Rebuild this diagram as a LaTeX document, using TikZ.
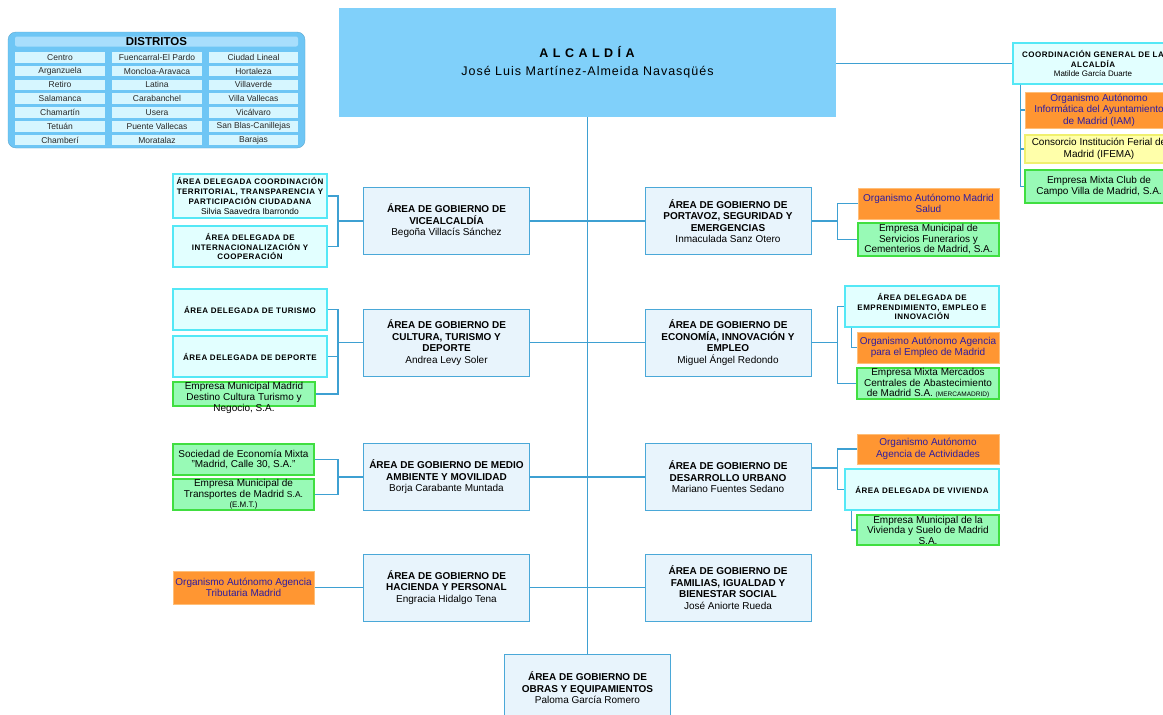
\documentclass[tikz,border=0pt]{standalone}
\usepackage{fontspec}
\setmainfont{Liberation Sans}
\newfontfamily\delfont[LetterSpace=6]{Liberation Sans}
\newfontfamily\alcfont[LetterSpace=8]{Liberation Sans}
\definecolor{linec}{RGB}{62,160,210}
\definecolor{gobfill}{RGB}{232,244,252}
\definecolor{gobdraw}{RGB}{74,168,216}
\definecolor{delfill}{RGB}{226,255,255}
\definecolor{deldraw}{RGB}{84,232,246}
\definecolor{orgfill}{RGB}{255,150,50}
\definecolor{orgdraw}{RGB}{255,190,120}
\definecolor{orgtext}{RGB}{46,28,160}
\definecolor{grnfill}{RGB}{152,250,182}
\definecolor{grndraw}{RGB}{64,222,64}
\definecolor{yelfill}{RGB}{255,255,170}
\definecolor{yeldraw}{RGB}{240,240,110}
\definecolor{alcfill}{RGB}{128,208,250}
\definecolor{distfill}{RGB}{110,198,245}
\definecolor{disthead}{RGB}{168,222,252}
\definecolor{distcell}{RGB}{214,246,255}
\definecolor{celltext}{RGB}{40,40,40}
\begin{document}
\begin{tikzpicture}[x=1pt,y=-1pt,
  conn/.style={draw=linec,line width=1.1pt},
  gob/.style={draw=gobdraw,fill=gobfill,line width=1pt,minimum width=166,minimum height=67,align=center,inner sep=0pt,font=\fontsize{10}{11.5}\selectfont},
  del/.style={draw=deldraw,fill=delfill,line width=1.3pt,minimum width=154,minimum height=41,align=center,inner sep=0pt,font=\delfont\bfseries\fontsize{8}{9.8}\selectfont},
  org/.style={draw=orgdraw,fill=orgfill,line width=1pt,text=orgtext,align=center,inner sep=0pt,font=\fontsize{10}{11.5}\selectfont},
  grn/.style={draw=grndraw,fill=grnfill,line width=1.3pt,align=center,inner sep=0pt,font=\fontsize{10}{10.5}\selectfont},
  grntext/.style={align=center,inner sep=0pt,font=\fontsize{10}{11}\selectfont},
  yel/.style={draw=yeldraw,fill=yelfill,line width=1.3pt,align=center,inner sep=0pt,font=\fontsize{10}{11.5}\selectfont},
  cell/.style={fill=distcell,minimum width=90,minimum height=10.5,inner sep=0pt,text=celltext,font=\fontsize{8.5}{9}\selectfont}
]
\useasboundingbox (0,0) rectangle (1163,715);
\fill[white] (0,0) rectangle (1163,715);

% Distritos
\node[fill=distfill,draw=distfill!85!black,line width=0.4pt,rounded corners=8pt,minimum width=297,minimum height=116,inner sep=0pt] (dist) at (156.5,90) {};
\node[fill=disthead,rounded corners=2pt,minimum width=283,minimum height=10,inner sep=0pt,font=\bfseries\fontsize{11.5}{12}\selectfont] (dhead) at (156.5,41.5) {DISTRITOS};
\foreach \n [count=\i] in {Centro,Arganzuela,Retiro,Salamanca,Chamartín,Tetuán,Chamberí}
  \node[cell] (da-\i) at (60,57.25+13.8*\i-13.8) {\n};
\foreach \n [count=\i] in {Fuencarral-El Pardo,Moncloa-Aravaca,Latina,Carabanchel,Usera,Puente Vallecas,Moratalaz}
  \node[cell] (db-\i) at (157,57.25+13.8*\i-13.8) {\n};
\foreach \n [count=\i] in {Ciudad Lineal,Hortaleza,Villaverde,Villa Vallecas,Vicálvaro,San Blas-Canillejas,Barajas}
  \node[cell,minimum width=89] (dc-\i) at (253.5,57.25+13.8*\i-13.8) {\n};

% Alcaldia
\node[fill=alcfill,minimum width=497,minimum height=109,inner sep=0pt,align=center,font=\alcfont\fontsize{12.5}{18}\selectfont] (alc) at (587.5,62.5)
  {\textbf{A L C A L D Í A}\\José Luis Martínez-Almeida Navasqüés};

% Coordinacion general
\node[del,minimum width=160,minimum height=41] (coord) at (1093,63.5)
  {COORDINACIÓN GENERAL DE LA\\ALCALDÍA\\{\normalfont\fontsize{8}{9.8}\selectfont Matilde García Duarte}};
\node[org,minimum width=148,minimum height=36] (iam) at (1099,110) {Organismo Autónomo\\Informática del Ayuntamiento\\de Madrid (IAM)};
\node[yel,minimum width=148,minimum height=28] (ifema) at (1099,149) {Consorcio Institución Ferial de\\Madrid (IFEMA)};
\node[grn,minimum width=148,minimum height=33] (club) at (1099,186.5) {Empresa Mixta Club de\\Campo Villa de Madrid, S.A.};

% Areas de gobierno
\node[gob] (vice) at (446.5,221) {\textbf{ÁREA DE GOBIERNO DE}\\\textbf{VICEALCALDÍA}\\Begoña Villacís Sánchez};
\node[gob] (cult) at (446.5,342.5) {\textbf{ÁREA DE GOBIERNO DE}\\\textbf{CULTURA, TURISMO Y}\\\textbf{DEPORTE}\\Andrea Levy Soler};
\node[gob] (medio) at (446.5,477) {\textbf{ÁREA DE GOBIERNO DE MEDIO}\\\textbf{AMBIENTE Y MOVILIDAD}\\Borja Carabante Muntada};
\node[gob] (hac) at (446.5,587.5) {\textbf{ÁREA DE GOBIERNO DE}\\\textbf{HACIENDA Y PERSONAL}\\Engracia Hidalgo Tena};
\node[gob] (port) at (728,221) {\textbf{ÁREA DE GOBIERNO DE}\\\textbf{PORTAVOZ, SEGURIDAD Y}\\\textbf{EMERGENCIAS}\\Inmaculada Sanz Otero};
\node[gob] (econ) at (728,342.5) {\textbf{ÁREA DE GOBIERNO DE}\\\textbf{ECONOMÍA, INNOVACIÓN Y}\\\textbf{EMPLEO}\\Miguel Ángel Redondo};
\node[gob] (desa) at (728,477) {\textbf{ÁREA DE GOBIERNO DE}\\\textbf{DESARROLLO URBANO}\\Mariano Fuentes Sedano};
\node[gob] (fam) at (728,587.5) {\textbf{ÁREA DE GOBIERNO DE}\\\textbf{FAMILIAS, IGUALDAD Y}\\\textbf{BIENESTAR SOCIAL}\\José Aniorte Rueda};
\node[gob] (obras) at (587.5,688) {\textbf{ÁREA DE GOBIERNO DE}\\\textbf{OBRAS Y EQUIPAMIENTOS}\\Paloma García Romero};

% Left children
\node[del,minimum height=44] (vd1) at (250,196) {ÁREA DELEGADA COORDINACIÓN\\TERRITORIAL, TRANSPARENCIA Y\\PARTICIPACIÓN CIUDADANA\\{\normalfont\fontsize{8.5}{9.8}\selectfont Silvia Saavedra Ibarrondo}};
\node[del] (vd2) at (250,246.5) {ÁREA DELEGADA DE\\INTERNACIONALIZACIÓN Y\\COOPERACIÓN};
\node[del] (tur) at (250,309.5) {ÁREA DELEGADA DE TURISMO};
\node[del] (dep) at (250,356.5) {ÁREA DELEGADA DE DEPORTE};
\node[grn,minimum width=142,minimum height=24] (dest) at (244,394) {};
\node[grntext] (destT) at (244,398) {Empresa Municipal Madrid\\Destino Cultura Turismo y\\Negocio, S.A.};
\node[grn,minimum width=141,minimum height=31] (c30) at (243.5,459.5) {Sociedad de Economía Mixta\\"Madrid, Calle 30, S.A."};
\node[grn,minimum width=141,minimum height=31] (emt) at (243.5,494.5) {Empresa Municipal de\\Transportes de Madrid {\fontsize{8.5}{10}\selectfont S.A.}\\{\fontsize{8}{10}\selectfont (E.M.T.)}};
\node[org,minimum width=141,minimum height=33] (trib) at (243.5,587.5) {Organismo Autónomo Agencia\\Tributaria Madrid};

% Right children
\node[org,minimum width=141,minimum height=31] (salud) at (928.5,203.5) {Organismo Autónomo Madrid\\Salud};
\node[grn,minimum width=141,minimum height=33] (funer) at (928.5,239.5) {Empresa Municipal de\\Servicios Funerarios y\\Cementerios de Madrid, S.A.};
\node[del] (empdel) at (922,306.5) {ÁREA DELEGADA DE\\EMPRENDIMIENTO, EMPLEO E\\INNOVACIÓN};
\node[org,minimum width=142,minimum height=31] (agemp) at (928,347.5) {Organismo Autónomo Agencia\\para el Empleo de Madrid};
\node[grn,minimum width=142,minimum height=31] (merca) at (928,383.5) {Empresa Mixta Mercados\\Centrales de Abastecimiento\\de Madrid S.A. {\fontsize{6.5}{8}\selectfont (MERCAMADRID)}};
\node[org,minimum width=142,minimum height=30] (activ) at (928,449) {Organismo Autónomo\\Agencia de Actividades};
\node[del] (vivdel) at (922,489.5) {ÁREA DELEGADA DE VIVIENDA};
\node[grn,minimum width=142,minimum height=30] (emvs) at (928,530) {Empresa Municipal de la\\Vivienda y Suelo de Madrid\\S.A.};

% Connectors: trunk
\draw[conn] (alc.south) -- (obras.north);
\draw[conn] (alc.east |- coord.west) -- (coord.west);
\draw[conn] (vice.east) -- (port.west);
\draw[conn] (cult.east) -- (econ.west);
\draw[conn] (medio.east) -- (desa.west);
\draw[conn] (hac.east) -- (fam.west);

% Coordinacion children
\draw[conn] ([xshift=8pt]coord.south west) |- (iam.west);
\draw[conn] ([xshift=8pt]coord.south west) |- (ifema.west);
\draw[conn] ([xshift=8pt]coord.south west) |- (club.west);

% Left groups
\coordinate (vj) at ([xshift=-25pt]vice.west);
\draw[conn] (vd1.east) -| (vj);
\draw[conn] (vd2.east) -| (vj);
\draw[conn] (vj) -- (vice.west);
\coordinate (cj) at ([xshift=-25pt]cult.west);
\draw[conn] (tur.east) -| (cj);
\draw[conn] (dep.east) -| (cj);
\draw[conn] (dest.east) -| (cj);
\draw[conn] (cj) -- (cult.west);
\coordinate (mj) at ([xshift=-25pt]medio.west);
\draw[conn] (c30.east) -| (mj);
\draw[conn] (emt.east) -| (mj);
\draw[conn] (mj) -- (medio.west);
\draw[conn] (trib.east) -- (hac.west);

% Right groups
\coordinate (pj) at ([xshift=26pt]port.east);
\draw[conn] (port.east) -- (pj);
\draw[conn] (pj) |- (salud.west);
\draw[conn] (pj) |- (funer.west);
\coordinate (ej) at ([xshift=26pt]econ.east);
\draw[conn] (econ.east) -- (ej);
\draw[conn] (ej) |- (empdel.west);
\draw[conn] (ej) |- (merca.west);
\draw[conn] ([xshift=7pt]empdel.south west) |- (agemp.west);
\coordinate (dd) at ([yshift=9pt]desa.east);
\coordinate (dj) at ([xshift=26pt]dd);
\draw[conn] (dd) -- (dj);
\draw[conn] (dj) |- (activ.west);
\draw[conn] (dj) |- (vivdel.west);
\draw[conn] ([xshift=7pt]vivdel.south west) |- (emvs.west);
\end{tikzpicture}
\end{document}
